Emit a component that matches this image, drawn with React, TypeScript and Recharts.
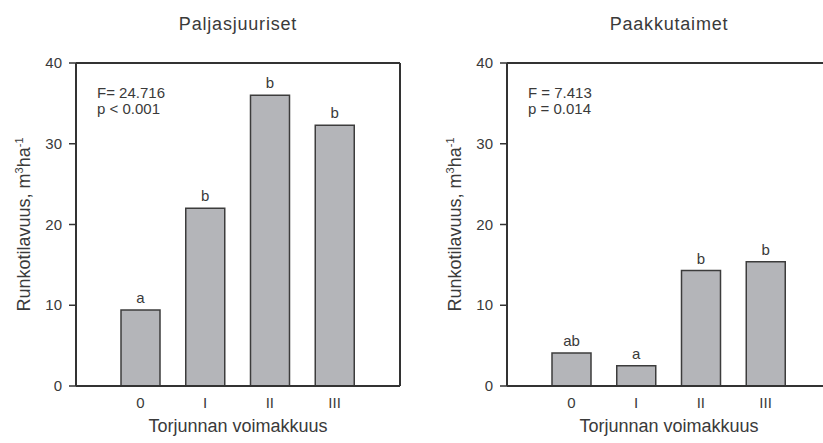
import React from 'react'
import { BarChart, Bar, XAxis, YAxis, LabelList, Label } from 'recharts'

const categories = ['0', 'I', 'II', 'III']

const paljasValues = [9.4, 22.0, 36.0, 32.3]
const paljasLetters = ['a', 'b', 'b', 'b']

const paakkuValues = [4.1, 2.5, 14.3, 15.4]
const paakkuLetters = ['ab', 'a', 'b', 'b']

const yTicks = [0, 10, 20, 30, 40]

const FONT = '"Liberation Sans", Arial, sans-serif'
const TEXT = '#3a3a3a'
const AXIS = '#333333'

interface PanelProps {
  title: string
  values: number[]
  letters: string[]
  statF: string
  statP: string
  left: number
}

function YTick(props: any) {
  const { x, y, payload } = props
  return (
    <text x={x} y={y + 5} textAnchor="end" fontSize={15} fill={TEXT} fontFamily={FONT}>
      {payload.value}
    </text>
  )
}

function XTick(props: any) {
  const { x, y, payload } = props
  return (
    <text x={x} y={y + 22} textAnchor="middle" fontSize={15} fill={TEXT} fontFamily={FONT}>
      {payload.value}
    </text>
  )
}

function Panel({ title, values, letters, statF, statP, left }: PanelProps) {
  const data = categories.map((cat, i) => ({ cat, value: values[i], sig: letters[i] }))

  return (
    <div style={{ position: 'absolute', left, top: 0 }}>
      <BarChart width={420} height={443} data={data} margin={{ top: 62, right: 19, bottom: 27, left: 10 }}>
        <XAxis
          dataKey="cat"
          padding={{ left: 32, right: 33 }}
          height={30}
          tickSize={0}
          tickMargin={0}
          tickLine={false}
          axisLine={{ stroke: AXIS, strokeWidth: 2 }}
          tick={<XTick />}
        >
          <Label
            content={(p: any) => {
              const vb = p.viewBox
              return (
                <text
                  x={vb.x + vb.width / 2}
                  y={vb.y + 46}
                  textAnchor="middle"
                  fontSize={18}
                  fill={TEXT}
                  fontFamily={FONT}
                >
                  Torjunnan voimakkuus
                </text>
              )
            }}
          />
        </XAxis>
        <XAxis
          xAxisId="t"
          dataKey="cat"
          orientation="top"
          height={1}
          tick={false}
          tickLine={false}
          axisLine={{ stroke: AXIS, strokeWidth: 2 }}
        >
          <Label
            content={(p: any) => {
              const vb = p.viewBox
              const top = vb.y + vb.height
              return (
                <g fontFamily={FONT} fill={TEXT}>
                  <text x={vb.x + vb.width / 2} y={top - 33} textAnchor="middle" fontSize={18} letterSpacing={0.8}>
                    {title}
                  </text>
                  <text x={vb.x + 21} y={top + 35} fontSize={15}>
                    {statF}
                  </text>
                  <text x={vb.x + 21} y={top + 51} fontSize={15}>
                    {statP}
                  </text>
                </g>
              )
            }}
          />
        </XAxis>
        <YAxis
          domain={[0, 40]}
          ticks={yTicks}
          width={66}
          tickSize={7}
          tickMargin={7}
          tickLine={{ stroke: AXIS, strokeWidth: 1.5 }}
          axisLine={{ stroke: AXIS, strokeWidth: 2 }}
          tick={<YTick />}
        >
          <Label
            content={(p: any) => {
              const vb = p.viewBox
              const x = vb.x + 20
              const y = vb.y + vb.height / 2
              return (
                <text
                  x={x}
                  y={y}
                  transform={`rotate(-90, ${x}, ${y})`}
                  textAnchor="middle"
                  fontSize={18}
                  fill={TEXT}
                  fontFamily={FONT}
                >
                  Runkotilavuus, m
                  <tspan dy={-7} fontSize={11}>3</tspan>
                  <tspan dy={7}>ha</tspan>
                  <tspan dy={-7} fontSize={11}>-1</tspan>
                </text>
              )
            }}
          />
        </YAxis>
        <YAxis
          yAxisId="r"
          orientation="right"
          domain={[0, 40]}
          width={1}
          tick={false}
          tickLine={false}
          axisLine={{ stroke: AXIS, strokeWidth: 2 }}
        />
        <Bar
          dataKey="value"
          barSize={39}
          fill="#b4b5b9"
          stroke="#3c3c3c"
          strokeWidth={1.5}
          isAnimationActive={false}
        >
          <LabelList dataKey="sig" position="top" offset={7} fontSize={15} fill={TEXT} fontFamily={FONT} />
        </Bar>
      </BarChart>
    </div>
  )
}

export default function App() {
  return (
    <div
      style={{
        position: 'fixed',
        left: 0,
        top: 0,
        width: 823,
        height: 443,
        overflow: 'hidden',
        background: '#ffffff',
        fontFamily: FONT,
      }}
    >
      <Panel
        title="Paljasjuuriset"
        values={paljasValues}
        letters={paljasLetters}
        statF="F= 24.716"
        statP="p < 0.001"
        left={0}
      />
      <Panel
        title="Paakkutaimet"
        values={paakkuValues}
        letters={paakkuLetters}
        statF="F = 7.413"
        statP="p = 0.014"
        left={431}
      />
    </div>
  )
}
